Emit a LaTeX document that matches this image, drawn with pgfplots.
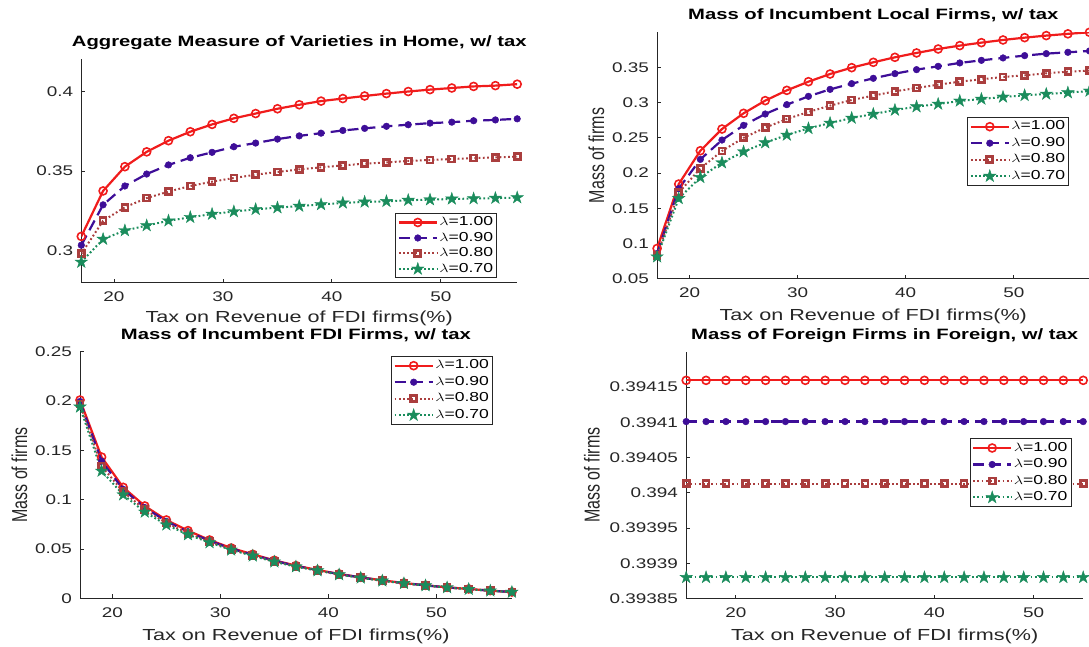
\documentclass[border=0pt]{standalone}
\usepackage{fontspec}
\setmainfont{Liberation Sans}[FakeStretch=1.35]
\newfontfamily\plainsans{Liberation Sans}
\usepackage{graphicx}
\usepackage{pgfplots}
\pgfplotsset{compat=1.18}
\usepackage{pgfplotstable}

\definecolor{cR}{RGB}{240,28,28}
\definecolor{cP}{RGB}{62,14,152}
\definecolor{cB}{RGB}{170,62,62}
\definecolor{cG}{RGB}{26,140,92}
\definecolor{axgray}{RGB}{38,38,38}

% filled five-pointed star
\pgfdeclareplotmark{pentagram}{%
  \pgfpathmoveto{\pgfpointpolar{90}{\pgfplotmarksize}}%
  \pgfpathlineto{\pgfpointpolar{126}{0.382\pgfplotmarksize}}%
  \pgfpathlineto{\pgfpointpolar{162}{\pgfplotmarksize}}%
  \pgfpathlineto{\pgfpointpolar{198}{0.382\pgfplotmarksize}}%
  \pgfpathlineto{\pgfpointpolar{234}{\pgfplotmarksize}}%
  \pgfpathlineto{\pgfpointpolar{270}{0.382\pgfplotmarksize}}%
  \pgfpathlineto{\pgfpointpolar{306}{\pgfplotmarksize}}%
  \pgfpathlineto{\pgfpointpolar{342}{0.382\pgfplotmarksize}}%
  \pgfpathlineto{\pgfpointpolar{18}{\pgfplotmarksize}}%
  \pgfpathlineto{\pgfpointpolar{54}{0.382\pgfplotmarksize}}%
  \pgfpathclose
  \pgfusepathqfillstroke}

% Aggregate measure of varieties in Home
\pgfplotstableread{
x a b c d
17 0.3090 0.3035 0.2981 0.2929
19 0.3375 0.3288 0.3188 0.3073
21 0.3527 0.3406 0.3273 0.3127
23 0.3620 0.3481 0.3330 0.3158
25 0.3690 0.3538 0.3371 0.3188
27 0.3746 0.3583 0.3406 0.3210
29 0.3792 0.3617 0.3433 0.3230
31 0.3830 0.3652 0.3456 0.3246
33 0.3860 0.3675 0.3477 0.3260
35 0.3890 0.3700 0.3494 0.3270
37 0.3915 0.3720 0.3510 0.3280
39 0.3938 0.3737 0.3523 0.3290
41 0.3954 0.3754 0.3535 0.3300
43 0.3970 0.3767 0.3546 0.3306
45 0.3985 0.3780 0.3554 0.3310
47 0.3998 0.3790 0.3563 0.3317
49 0.4010 0.3800 0.3569 0.3320
51 0.4020 0.3806 0.3575 0.3325
53 0.4030 0.3815 0.3581 0.3327
55 0.4035 0.3820 0.3585 0.3330
57 0.4044 0.3827 0.3590 0.3333
}\varieties

% Mass of incumbent local firms
\pgfplotstableread{
x a b c d
17 0.0929 0.0858 0.0834 0.0811
19 0.1843 0.1777 0.1720 0.1639
21 0.2316 0.2193 0.2065 0.1938
23 0.2624 0.2468 0.2312 0.2146
25 0.2847 0.2676 0.2500 0.2302
27 0.3027 0.2837 0.2643 0.2430
29 0.3173 0.2970 0.2766 0.2539
31 0.3296 0.3088 0.2866 0.2633
33 0.3405 0.3187 0.2956 0.2709
35 0.3495 0.3268 0.3036 0.2780
37 0.3571 0.3344 0.3098 0.2837
39 0.3642 0.3410 0.3159 0.2894
41 0.3704 0.3467 0.3206 0.2941
43 0.3760 0.3514 0.3254 0.2979
45 0.3808 0.3562 0.3296 0.3022
47 0.3850 0.3599 0.3330 0.3050
49 0.3888 0.3633 0.3363 0.3079
51 0.3921 0.3666 0.3386 0.3102
53 0.3950 0.3694 0.3415 0.3121
55 0.3975 0.3713 0.3438 0.3140
57 0.3997 0.3732 0.3453 0.3164
}\localfirms

% Mass of incumbent FDI firms
\pgfplotstableread{
x a b c d
17 0.2010 0.1995 0.1970 0.1940
19 0.1432 0.1390 0.1340 0.1290
21 0.1125 0.1105 0.1080 0.1050
23 0.0936 0.0920 0.0900 0.0875
25 0.0794 0.0780 0.0763 0.0745
27 0.0686 0.0675 0.0660 0.0645
29 0.0591 0.0583 0.0574 0.0565
31 0.0510 0.0504 0.0497 0.0490
33 0.0446 0.0441 0.0436 0.0430
35 0.0385 0.0381 0.0376 0.0370
37 0.0331 0.0328 0.0324 0.0320
39 0.0287 0.0285 0.0283 0.0280
41 0.0247 0.0245 0.0243 0.0240
43 0.0213 0.0211 0.0209 0.0207
45 0.0182 0.0181 0.0179 0.0177
47 0.0155 0.0154 0.0152 0.0151
49 0.0132 0.0131 0.0130 0.0129
51 0.0111 0.0110 0.0110 0.0109
53 0.0095 0.0094 0.0093 0.0092
55 0.0078 0.0077 0.0077 0.0076
57 0.0064 0.0064 0.0063 0.0063
}\fdifirms

% Mass of foreign firms in Foreign
\pgfplotstableread{
x a b c d
15 0.3941594 0.3941010 0.3940132 0.3938802
17 0.3941594 0.3941010 0.3940132 0.3938802
19 0.3941594 0.3941010 0.3940132 0.3938802
21 0.3941594 0.3941010 0.3940132 0.3938802
23 0.3941594 0.3941010 0.3940132 0.3938802
25 0.3941594 0.3941010 0.3940132 0.3938802
27 0.3941594 0.3941010 0.3940132 0.3938802
29 0.3941594 0.3941010 0.3940132 0.3938802
31 0.3941594 0.3941010 0.3940132 0.3938802
33 0.3941594 0.3941010 0.3940132 0.3938802
35 0.3941594 0.3941010 0.3940132 0.3938802
37 0.3941594 0.3941010 0.3940132 0.3938802
39 0.3941594 0.3941010 0.3940132 0.3938802
41 0.3941594 0.3941010 0.3940132 0.3938802
43 0.3941594 0.3941010 0.3940132 0.3938802
45 0.3941594 0.3941010 0.3940132 0.3938802
47 0.3941594 0.3941010 0.3940132 0.3938802
49 0.3941594 0.3941010 0.3940132 0.3938802
51 0.3941594 0.3941010 0.3940132 0.3938802
53 0.3941594 0.3941010 0.3940132 0.3938802
55 0.3941594 0.3941010 0.3940132 0.3938802
}\foreignfirms

\newcommand{\lam}{\scalebox{1.35}[1]{$\lambda$}}

\pgfplotsset{
  panel/.style={
    scale only axis,
    axis lines*=left,
    axis line style={-, draw=axgray, line width=1pt},
    tick align=inside,
    major tick length=4pt,
    major tick style={draw=axgray, line width=0.9pt},
    xmin=17, xmax=57,
    xtick={20,30,40,50}, xticklabels={20,30,40,50},
    tick label style={text=axgray, font=\fontsize{14}{16}\selectfont, inner sep=0pt},
    xticklabel style={anchor=north, yshift=-9pt},
    yticklabel style={anchor=east, xshift=-8pt},
    title style={font=\bfseries\fontsize{15}{17}\selectfont, text=black,
      at={(axis description cs:0.5,1)}, anchor=base, yshift=6.5pt},
    xlabel={Tax on Revenue of FDI firms(\%)},
    xlabel style={font=\fontsize{16}{18}\selectfont, text=axgray,
      at={(axis description cs:0.5,0)}, anchor=base, yshift=-42pt},
    ylabel style={font=\plainsans\fontsize{16}{18}\selectfont, text=axgray, anchor=base},
    legend cell align=left,
    legend style={draw=axgray, line width=0.9pt, fill=white, text=black,
      font=\fontsize{13}{15}\selectfont, anchor=north east,
      inner xsep=2pt, inner ysep=1pt, row sep=0pt,
      nodes={inner xsep=1.5pt, inner ysep=1pt, text height=10.5pt, text depth=4pt}},
    legend image code/.code={%
      \draw[mark repeat=2, mark phase=2, #1]
        plot coordinates {(0pt,0pt) (19pt,0pt) (38pt,0pt)};},
  },
  lamA/.style={cR, solid, line width=2.2pt, mark=o, mark size=4pt,
    mark options={solid, line width=1.6pt}},
  lamB/.style={cP, dash pattern=on 11pt off 6pt, line width=2.2pt, mark=*, mark size=3.3pt,
    mark options={solid, fill=cP, line width=0.5pt}},
  lamC/.style={cB, dash pattern=on 1.8pt off 2.4pt, line width=2pt, mark=square, mark size=3pt,
    mark options={solid, line width=2.7pt}},
  lamD/.style={cG, dash pattern=on 1.8pt off 2.4pt, line width=2pt, mark=pentagram, mark size=6.5pt,
    mark options={solid, fill=cG, line width=0.4pt}},
}

\begin{document}
\begin{tikzpicture}
\useasboundingbox (0pt,0pt) rectangle (1089pt,647pt);
\clip (0pt,0pt) rectangle (1089pt,647pt);

% top left
\begin{axis}[panel, at={(81.3pt,364.3pt)}, anchor=south west,
  width=435.9pt, height=223.4pt,
  ymin=0.28, ymax=0.42,
  ytick={0.3,0.35,0.4}, yticklabels={0.3,0.35,0.4},
  xlabel style={yshift=2pt},
  title={Aggregate Measure of Varieties in Home, w/ tax},
  legend style={at={(0.9537,0.3107)}, nodes={inner ysep=0.5pt}}]
\addplot[lamA] table[x=x,y=a] {\varieties};
\addplot[lamB] table[x=x,y=b] {\varieties};
\addplot[lamC] table[x=x,y=c] {\varieties};
\addplot[lamD] table[x=x,y=d] {\varieties};
\legend{\lam=1.00,\lam=0.90,\lam=0.80,\lam=0.70}
\end{axis}

% top right
\begin{axis}[panel, at={(657.1pt,368.3pt)}, anchor=south west,
  width=432.4pt, height=246.4pt,
  ymin=0.05, ymax=0.3997,
  ytick={0.05,0.1,0.15,0.2,0.25,0.3,0.35},
  yticklabels={0.05,0.1,0.15,0.2,0.25,0.3,0.35},
  title={Mass of Incumbent Local Firms, w/ tax},
  ylabel={\scalebox{1}[1.35]{Mass of firms}},
  ylabel style={at={(axis description cs:-0.1226,0.5)}},
  legend style={at={(0.9526,0.6563)}}]
\addplot[lamA] table[x=x,y=a] {\localfirms};
\addplot[lamB] table[x=x,y=b] {\localfirms};
\addplot[lamC] table[x=x,y=c] {\localfirms};
\addplot[lamD] table[x=x,y=d] {\localfirms};
\legend{\lam=1.00,\lam=0.90,\lam=0.80,\lam=0.70}
\end{axis}

% bottom left
\begin{axis}[panel, at={(80pt,48.7pt)}, anchor=south west,
  width=431.9pt, height=246.6pt,
  ymin=0, ymax=0.25,
  ytick={0,0.05,0.1,0.15,0.2,0.25},
  yticklabels={0,0.05,0.1,0.15,0.2,0.25},
  title={Mass of Incumbent FDI Firms, w/ tax},
  ylabel={\scalebox{1}[1.35]{Mass of firms}},
  ylabel style={at={(axis description cs:-0.1227,0.5)}},
  legend style={at={(0.956,0.9826)}}]
\addplot[lamA] table[x=x,y=a] {\fdifirms};
\addplot[lamB] table[x=x,y=b] {\fdifirms};
\addplot[lamC] table[x=x,y=c] {\fdifirms};
\addplot[lamD] table[x=x,y=d] {\fdifirms};
\legend{\lam=1.00,\lam=0.90,\lam=0.80,\lam=0.70}
\end{axis}

% bottom right: values differ only in the fifth digit, so the y axis
% is measured from 0.394 in units of 1e-5 with exact decimal arithmetic
\begin{axis}[panel, at={(686.2pt,48.3pt)}, anchor=south west,
  width=397pt, height=247pt,
  xmin=15, xmax=55,
  y coord trafo/.code={\edef\pgfmathresult{\fpeval{(#1-0.394)*100000}}},
  ymin=0.39385, ymax=0.3942,
  ytick={0.39385,0.3939,0.39395,0.394,0.39405,0.3941,0.39415},
  yticklabels={0.39385,0.3939,0.39395,0.394,0.39405,0.3941,0.39415},
  title={Mass of Foreign Firms in Foreign, w/ tax},
  ylabel={\scalebox{1}[1.35]{Mass of firms}},
  ylabel style={at={(axis description cs:-0.2184,0.5)}},
  legend style={at={(0.9703,0.6494)}}]
\addplot[lamA] table[x=x,y=a] {\foreignfirms};
\addplot[lamB] table[x=x,y=b] {\foreignfirms};
\addplot[lamC] table[x=x,y=c] {\foreignfirms};
\addplot[lamD] table[x=x,y=d] {\foreignfirms};
\legend{\lam=1.00,\lam=0.90,\lam=0.80,\lam=0.70}
\end{axis}
\end{tikzpicture}
\end{document}
